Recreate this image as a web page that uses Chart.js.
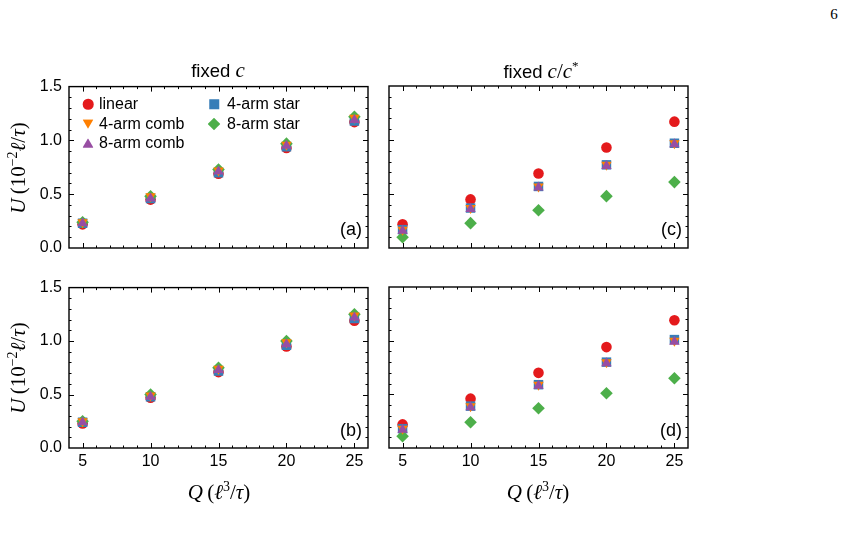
<!DOCTYPE html>
<html>
<head>
<meta charset="utf-8">
<script src="https://cdn.jsdelivr.net/npm/chart.js@4.4.1/dist/chart.umd.min.js"></script>
<style>
body { margin: 0; background: #fff; width: 861px; height: 539px; position: relative; overflow: hidden;
       font-family: "Liberation Sans", Arial, sans-serif; color: #000; }
canvas { position: absolute; }
.t { position: absolute; white-space: nowrap; line-height: 1; }
.m { font-family: "Liberation Serif", "DejaVu Serif", serif; }
.m i { font-style: italic; }
.ctr { transform: translate(-50%, -50%); }
.rot { transform: translate(-50%, -50%) rotate(-90deg); }
.lab { font-size: 18px; transform: translate(-100%, -50%); }
.mk { position: absolute; transform: translate(-50%, -50%); }
.leg { position: absolute; font-size: 16px; line-height: 1; transform: translateY(-50%); white-space: nowrap; }
</style>
</head>
<body>

<canvas id="pa" width="358" height="206" style="left:20px;top:70px"></canvas>
<canvas id="pc" width="358" height="206" style="left:340px;top:70px"></canvas>
<canvas id="pb" width="358" height="205" style="left:20px;top:271px"></canvas>
<canvas id="pd" width="358" height="205" style="left:340px;top:271px"></canvas>

<div class="t m" style="left:834px;top:14px;font-size:15px;transform:translate(-50%,-50%)">6</div>

<div class="t ctr" style="left:218px;top:70px;font-size:18.5px">fixed <span class="m" style="font-size:21px"><i>c</i></span></div>
<div class="t ctr" style="left:541px;top:70px;font-size:18.5px">fixed <span class="m" style="font-size:21px"><i>c</i>/<i>c</i><sup style="font-size:13px">*</sup></span></div>

<div class="t m rot" style="left:17px;top:168px;font-size:21px"><i>U</i>&#8201;(10<sup style="font-size:14px">&minus;2</sup><i>&#8467;</i>/<i>&tau;</i>)</div>
<div class="t m rot" style="left:17px;top:368px;font-size:21px"><i>U</i>&#8201;(10<sup style="font-size:14px">&minus;2</sup><i>&#8467;</i>/<i>&tau;</i>)</div>
<div class="t m ctr" style="left:219px;top:491px;font-size:21px"><i>Q</i>&#8201;(<i>&#8467;</i><sup style="font-size:14px">3</sup>/<i>&tau;</i>)</div>
<div class="t m ctr" style="left:538px;top:491px;font-size:21px"><i>Q</i>&#8201;(<i>&#8467;</i><sup style="font-size:14px">3</sup>/<i>&tau;</i>)</div>

<div class="t lab" style="left:362px;top:229px">(a)</div>
<div class="t lab" style="left:682px;top:229px">(c)</div>
<div class="t lab" style="left:362px;top:430px">(b)</div>
<div class="t lab" style="left:682px;top:430px">(d)</div>

<div id="legend"></div>

<script>
// x values (flow rate Q)
const q = [5, 10, 15, 20, 25];
const xTicks = [5, 10, 15, 20, 25];
const yTicks = [0, 0.5, 1.0, 1.5];

const names = ['linear', '4-arm comb', '8-arm comb', '4-arm star', '8-arm star'];

// (a) fixed c, top row
const linA   = [0.22, 0.45, 0.69, 0.93, 1.17];
const comb4A = [0.24, 0.48, 0.72, 0.96, 1.21];
const comb8A = [0.23, 0.46, 0.71, 0.95, 1.19];
const star4A = [0.23, 0.46, 0.70, 0.94, 1.18];
const star8A = [0.24, 0.48, 0.73, 0.97, 1.22];

// (c) fixed c/c*, top row
const linC   = [0.22, 0.45, 0.69, 0.93, 1.17];
const comb4C = [0.17, 0.37, 0.57, 0.77, 0.97];
const comb8C = [0.16, 0.36, 0.56, 0.76, 0.96];
const star4C = [0.17, 0.37, 0.57, 0.77, 0.97];
const star8C = [0.10, 0.23, 0.35, 0.48, 0.61];

// (b) fixed c, bottom row
const linB   = [0.23, 0.47, 0.71, 0.95, 1.19];
const comb4B = [0.25, 0.49, 0.74, 0.99, 1.24];
const comb8B = [0.24, 0.48, 0.73, 0.97, 1.22];
const star4B = [0.24, 0.48, 0.72, 0.96, 1.21];
const star8B = [0.25, 0.50, 0.75, 1.00, 1.25];

// (d) fixed c/c*, bottom row
const linD   = [0.22, 0.46, 0.70, 0.94, 1.19];
const comb4D = [0.18, 0.39, 0.59, 0.80, 1.00];
const comb8D = [0.17, 0.38, 0.58, 0.79, 0.99];
const star4D = [0.18, 0.39, 0.59, 0.80, 1.01];
const star8D = [0.11, 0.24, 0.37, 0.51, 0.65];

// marker styles: same order as names
const colors = ['#e41a1c', '#ff7f00', '#984ea3', '#377eb8', '#4daf4a'];
const shapes = ['circle', 'triangle', 'triangle', 'rect', 'rectRot'];
const rots   = [0, 180, 0, 0, 0];
const radii  = [5.3, 6, 6, 6.7, 6.3];
// draw order, top first (chart.js draws dataset 0 on top)
const drawOrder = [2, 1, 4, 3, 0];

// frame + inward ticks on all four sides
const frameTicks = {
  id: 'frameTicks',
  afterDraw(chart) {
    const {ctx, chartArea: a, scales: {x, y}} = chart;
    ctx.save();
    ctx.strokeStyle = '#000';
    ctx.lineWidth = 1;
    ctx.beginPath();
    for (let v = 4; v <= 26; v++) {
      const px = Math.round(x.getPixelForValue(v)) + 0.5;
      if (px <= a.left + 1 || px >= a.right - 1) continue;
      const len = v % 5 === 0 ? 5 : 2.5;
      ctx.moveTo(px, a.bottom); ctx.lineTo(px, a.bottom - len);
      ctx.moveTo(px, a.top); ctx.lineTo(px, a.top + len);
    }
    for (let i = 0; i <= 15; i++) {
      const py = Math.round(y.getPixelForValue(i / 10)) + 0.5;
      if (py <= a.top + 1 || py >= a.bottom - 1) continue;
      const len = i % 5 === 0 ? 5 : 2.5;
      ctx.moveTo(a.left, py); ctx.lineTo(a.left + len, py);
      ctx.moveTo(a.right, py); ctx.lineTo(a.right - len, py);
    }
    ctx.stroke();
    ctx.lineWidth = 1.4;
    ctx.strokeRect(a.left, a.top, a.right - a.left, a.bottom - a.top);
    ctx.restore();
  }
};

function makePanel(id, series, showX, showY) {
  const datasets = drawOrder.map(k => ({
    label: names[k],
    data: q.map((v, i) => ({x: v, y: series[k][i]})),
    backgroundColor: colors[k],
    borderWidth: 0,
    pointStyle: shapes[k],
    rotation: rots[k],
    pointRadius: radii[k],
    pointBorderWidth: 0
  }));
  new Chart(document.getElementById(id), {
    type: 'scatter',
    data: {datasets},
    options: {
      responsive: false,
      animation: false,
      layout: {padding: {top: 16, right: 10, left: 0, bottom: 0}},
      plugins: {legend: {display: false}, tooltip: {enabled: false}},
      scales: {
        x: {
          min: 4, max: 26,
          grid: {display: false, drawTicks: false},
          border: {display: false},
          afterBuildTicks: s => { s.ticks = xTicks.map(v => ({value: v})); },
          afterFit: s => { s.height = 28; },
          ticks: {display: showX, padding: 4, color: '#000', maxRotation: 0,
                  font: {family: 'Liberation Sans', size: 16}}
        },
        y: {
          min: 0, max: 1.5,
          grid: {display: false, drawTicks: false},
          border: {display: false},
          afterBuildTicks: s => { s.ticks = yTicks.map(v => ({value: v})); },
          afterFit: s => { s.width = 49; },
          ticks: {display: showY, padding: 7, color: '#000',
                  callback: v => v.toFixed(1),
                  font: {family: 'Liberation Sans', size: 16}}
        }
      }
    },
    plugins: [frameTicks]
  });
}

makePanel('pa', [linA, comb4A, comb8A, star4A, star8A], false, true);
makePanel('pc', [linC, comb4C, comb8C, star4C, star8C], false, false);
makePanel('pb', [linB, comb4B, comb8B, star4B, star8B], true, true);
makePanel('pd', [linD, comb4D, comb8D, star4D, star8D], true, false);

// legend inside panel (a), two columns
const legPos = [[88, 104], [88, 124], [88, 143], [214, 104], [214, 124]];
const mkCss = [
  'width:10.6px;height:10.6px;border-radius:50%',
  'width:11px;height:9.5px;clip-path:polygon(0 0,100% 0,50% 100%)',
  'width:11px;height:9.5px;clip-path:polygon(50% 0,100% 100%,0 100%)',
  'width:9.5px;height:9.5px',
  'width:12.6px;height:12.6px;clip-path:polygon(50% 0,100% 50%,50% 100%,0 50%)'
];
const leg = document.getElementById('legend');
names.forEach((n, k) => {
  const [mx, my] = legPos[k];
  const m = document.createElement('div');
  m.className = 'mk';
  m.style.cssText += `left:${mx}px;top:${my}px;background:${colors[k]};` + mkCss[k];
  leg.appendChild(m);
  const t = document.createElement('div');
  t.className = 'leg';
  t.style.left = (mx + (k < 3 ? 11 : 13)) + 'px';
  t.style.top = my + 'px';
  t.textContent = n;
  leg.appendChild(t);
});
</script>
</body>
</html>
